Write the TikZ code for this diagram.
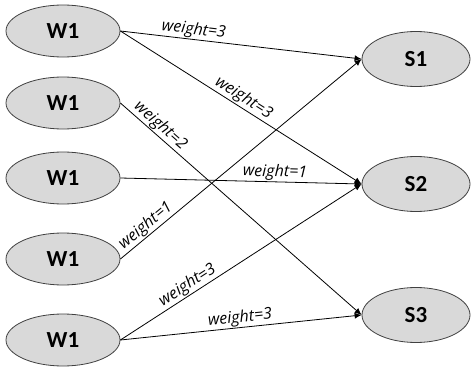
\documentclass[tikz,border=0pt]{standalone}
\usepackage{fontspec}
\setmainfont{Carlito}
\newfontfamily\lblfont{Open Sans}
\usetikzlibrary{shapes.geometric,arrows.meta}
\definecolor{nodefill}{HTML}{D9D9D9}
\definecolor{nodeline}{HTML}{404040}
\begin{document}
\begin{tikzpicture}[x=1pt,y=-1pt,
  wnode/.style={ellipse,draw=nodeline,line width=0.8pt,fill=nodefill,minimum width=114pt,minimum height=52pt,inner sep=0pt,font=\fontsize{23}{26}\selectfont\bfseries},
  snode/.style={ellipse,draw=nodeline,line width=0.8pt,fill=nodefill,minimum width=108pt,minimum height=55pt,inner sep=0pt,font=\fontsize{23}{26}\selectfont\bfseries},
  edge/.style={draw=black,line width=0.8pt,-{Latex[length=7pt,width=6pt]}},
  wlabel/.style={sloped,above,inner sep=1pt,font=\lblfont\itshape\fontsize{16}{18}\selectfont}]
\useasboundingbox (0,0) rectangle (472,375);
\node[wnode] (w1) at (63,31) {W1};
\node[wnode] (w2) at (63,103) {W1};
\node[wnode] (w3) at (63,178) {W1};
\node[wnode] (w4) at (63,259) {W1};
\node[wnode] (w5) at (63,340) {W1};
\node[snode] (s1) at (416,59) {S1};
\node[snode] (s2) at (416,184) {S2};
\node[snode] (s3) at (416,315) {S3};
\draw[edge] (w1.east) -- node[wlabel,pos=0.3] {weight=3} (s1.west);
\draw[edge] (w1.east) -- node[wlabel,pos=0.49] {weight=3} (s2.west);
\draw[edge] (w2.east) -- node[wlabel,pos=0.14] {weight=2} (s3.west);
\draw[edge] (w3.east) -- node[wlabel,pos=0.64] {weight=1} (s2.west);
\draw[edge] (w4.east) -- node[wlabel,pos=0.13] {weight=1} (s1.west);
\draw[edge] (w5.east) -- node[wlabel,pos=0.3] {weight=3} (s2.west);
\draw[edge] (w5.east) -- node[wlabel,pos=0.5] {weight=3} (s3.west);
\end{tikzpicture}
\end{document}
